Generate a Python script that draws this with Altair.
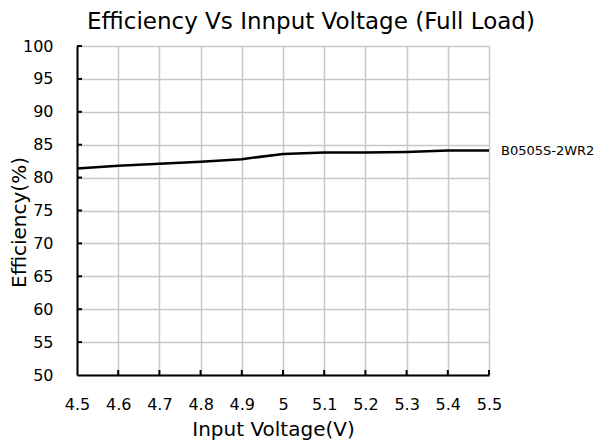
import altair as alt
import pandas as pd

voltage = [4.5, 4.6, 4.7, 4.8, 4.9, 5.0, 5.1, 5.2, 5.3, 5.4, 5.5]
efficiency = [81.4, 81.8, 82.1, 82.4, 82.8, 83.6, 83.8, 83.8, 83.9, 84.1, 84.1]
series_name = "B0505S-2WR2"
y_ticks = [50, 55, 60, 65, 70, 75, 80, 85, 90, 95, 100]
x_ticks = [4.5, 4.6, 4.7, 4.8, 4.9, 5.0, 5.1, 5.2, 5.3, 5.4, 5.5]

FONT = "DejaVu Sans"

df = pd.DataFrame({"voltage": voltage, "efficiency": efficiency})
label_df = pd.DataFrame({"voltage": [voltage[-1]], "efficiency": [efficiency[-1]],
                         "name": [series_name]})
yt_df = pd.DataFrame({"voltage": [voltage[0]] * (len(y_ticks) - 1), "efficiency": y_ticks[1:]})
xt_df = pd.DataFrame({"voltage": x_ticks[1:], "efficiency": [y_ticks[0]] * (len(x_ticks) - 1)})

x_scale = alt.Scale(domain=[4.5, 5.5], nice=False)
y_scale = alt.Scale(domain=[50, 100], nice=False)

x_axis = alt.Axis(values=x_ticks, title="Input Voltage(V)",
                  labelExpr="datum.value == 5 ? '5' : format(datum.value, '.1f')",
                  ticks=False, labelPadding=21, labelFlush=False, labelOverlap=False,
                  titleX=196, titleY=60, titleBaseline="alphabetic")
y_axis = alt.Axis(values=y_ticks, title="Efficiency(%)",
                  ticks=False, labelPadding=24, labelOverlap=False, labelFlush=False,
                  titleX=-52, titleY=176, titleBaseline="alphabetic")

X = alt.X("voltage:Q", scale=x_scale, axis=x_axis)
Y = alt.Y("efficiency:Q", scale=y_scale, axis=y_axis)

line = alt.Chart(df).mark_line(color="black", strokeWidth=2.5).encode(X, Y)

label = alt.Chart(label_df).mark_text(
    align="left", baseline="middle", dx=12, fontSize=13, font=FONT, color="black"
).encode(X, Y, text="name:N")

# inward tick marks on the left axis
y_tick_marks = alt.Chart(yt_df).mark_rule(color="black", strokeWidth=2).encode(
    Y, x=alt.value(0), x2=alt.value(5)
)

# inward tick marks on the bottom axis
x_tick_marks = alt.Chart(xt_df).mark_rule(color="black", strokeWidth=2).encode(
    X, y=alt.value(324), y2=alt.value(329)
)

chart = alt.layer(line, y_tick_marks, x_tick_marks, label).properties(
    width=412,
    height=329,
    title=alt.TitleParams("Efficiency Vs Innput Voltage (Full Load)", fontSize=23,
                          font=FONT, fontWeight="normal", color="black",
                          anchor="start", frame="group", dx=10, offset=4),
    autosize=alt.AutoSizeParams(type="none"),
    padding={"left": 69, "top": 38, "right": 109, "bottom": 65}
).configure_view(
    stroke=None
).configure_axis(
    domainColor="black",
    domainWidth=2,
    gridColor="#c8c8c8",
    gridWidth=1.5,
    labelFont=FONT,
    labelFontSize=16,
    labelColor="black",
    titleFont=FONT,
    titleFontSize=20,
    titleFontWeight="normal",
    titleColor="black"
)

chart.save("out.html", embed_options={"renderer": "svg", "actions": False})
